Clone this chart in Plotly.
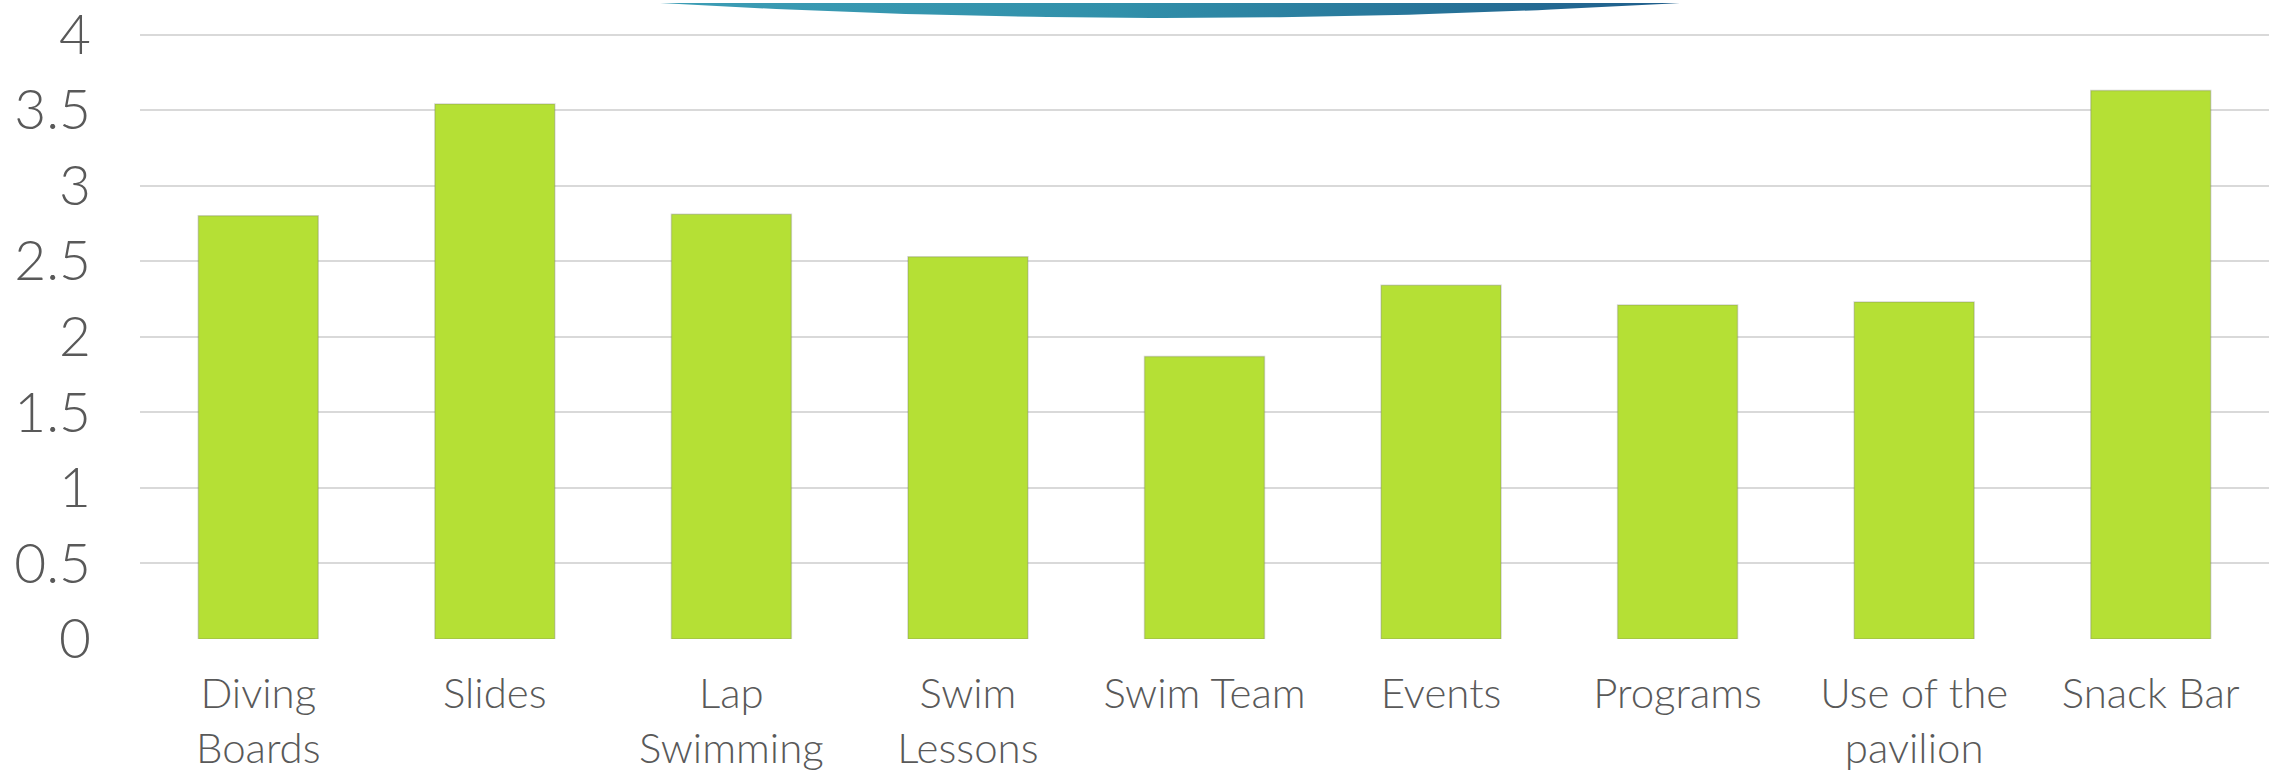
import plotly.graph_objects as go
import numpy as np

categories = ["Diving Boards", "Slides", "Lap Swimming", "Swim Lessons", "Swim Team",
              "Events", "Programs", "Use of the pavilion", "Snack Bar"]
tick_labels = ["Diving<br>Boards", "Slides", "Lap<br>Swimming", "Swim<br>Lessons", "Swim Team",
               "Events", "Programs", "Use of the<br>pavilion", "Snack Bar"]
values = [2.80, 3.54, 2.81, 2.53, 1.87, 2.34, 2.21, 2.23, 3.63]
y_ticks = [0, 0.5, 1, 1.5, 2, 2.5, 3, 3.5, 4]
y_tick_labels = ["0", "0.5", "1", "1.5", "2", "2.5", "3", "3.5", "4"]

W, H = 2287, 772
ML, MR, MT, MB = 140, 18, 0, 132
plot_h = H - MT - MB
y4_px = 31.7
y_top = 4 * plot_h / (plot_h - y4_px)

FONT = "Lato, 'Open Sans', sans-serif"
TXT = "#595959"

fig = go.Figure()
fig.add_trace(go.Bar(
    x=categories, y=values,
    marker=dict(color="#b5e035", line=dict(color="rgba(110,110,110,0.28)", width=1.5)),
    hoverinfo="x+y", showlegend=False,
))

# decorative teal arc at the top of the slide (overlay axis in pixel units)
t = np.linspace(0, 1, 80)
x0, x1, xm, depth = 660, 1680, 1170, 30
ax = (1 - t) ** 2 * x0 + 2 * (1 - t) * t * xm + t ** 2 * x1
ay = 2 * (1 - t) * t * depth
fig.add_trace(go.Scatter(
    x=list(ax) + [x1, x0], y=list(ay) + [-5, -5],
    xaxis="x2", yaxis="y2", mode="lines", line=dict(width=0),
    fill="toself",
    fillgradient=dict(type="horizontal",
                      colorscale=[[0, "#3c9db5"], [0.45, "#3190aa"], [1, "#1f5d8b"]]),
    hoverinfo="skip", showlegend=False,
))

fig.update_layout(
    width=W, height=H,
    margin=dict(l=ML, r=MR, t=MT, b=MB),
    paper_bgcolor="white", plot_bgcolor="white",
    bargap=0.493,
    font=dict(family=FONT, color=TXT, weight=300),
    xaxis=dict(
        tickmode="array", tickvals=categories, ticktext=tick_labels,
        tickfont=dict(size=42, color=TXT, family=FONT, weight=300),
        showgrid=False, zeroline=False, showline=False, ticks="",
        ticklabelstandoff=26, ticklabeloverflow="allow",
    ),
    yaxis=dict(
        range=[0, y_top], tickmode="array", tickvals=y_ticks, ticktext=y_tick_labels,
        tickfont=dict(size=55, color=TXT, family=FONT, weight=300),
        showgrid=True, gridcolor="#d9d9d9", gridwidth=2,
        zeroline=False, showline=False, ticks="",
        ticklabelstandoff=48, ticklabeloverflow="allow",
    ),
    xaxis2=dict(overlaying="x", range=[ML, W - MR], visible=False, fixedrange=True),
    yaxis2=dict(overlaying="y", range=[H - MB, MT], visible=False, fixedrange=True),
)

fig.write_html(
    "out.html",
    config={"displayModeBar": False},
    post_script="document.body.style.margin='0';document.body.style.padding='0';"
                "document.body.style.overflow='hidden';",
)
